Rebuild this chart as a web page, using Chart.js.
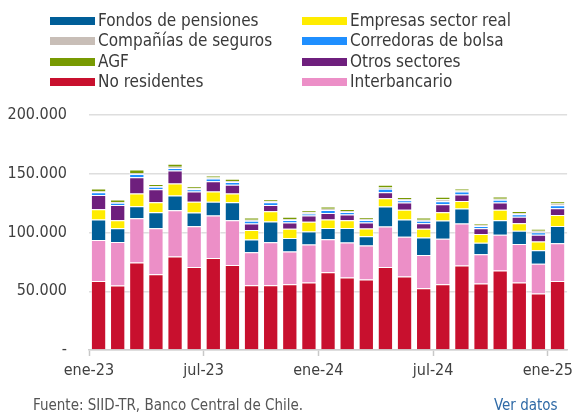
<!DOCTYPE html>
<html>
<head>
<meta charset="utf-8">
<script src="https://cdn.jsdelivr.net/npm/chart.js@4.4.1/dist/chart.umd.min.js"></script>
<style>
  html, body { margin: 0; padding: 0; background: #fff; }
  #wrap { position: relative; width: 588px; height: 415px; overflow: hidden;
          font-family: 'Liberation Sans Narrow', 'DejaVu Sans Condensed', 'Liberation Sans', sans-serif; }
  #c { position: absolute; left: 0; top: 0; }
  .lg { position: absolute; height: 20px; line-height: 20px; font-size: 17px; color: #3a3a3a; white-space: nowrap; }
  .lg .box { position: absolute; top: 7px; width: 45px; height: 8px; }
  .lg .txt { position: absolute; }
  #src { position: absolute; left: 33px; top: 395px; font-size: 15px; color: #555; white-space: nowrap; line-height: 20px; }
  #ver { position: absolute; left: 494px; top: 395px; font-size: 15px; color: #2f6aa6; white-space: nowrap; line-height: 20px; }
</style>
</head>
<body>
<div id="wrap">
  <canvas id="c" width="588" height="415"></canvas>
  <div id="legend"></div>
  <div id="src">Fuente: SIID-TR, Banco Central de Chile.</div>
  <div id="ver">Ver datos</div>
</div>
<script>
const months = ['ene-23','feb-23','mar-23','abr-23','may-23','jun-23','jul-23','ago-23','sep-23','oct-23','nov-23','dic-23',
                'ene-24','feb-24','mar-24','abr-24','may-24','jun-24','jul-24','ago-24','sep-24','oct-24','nov-24','dic-24','ene-25'];

const noResidentes  = [58800,54800,74400,64500,79500,70700,78400,72400,55100,55100,55900,57400,66200,61600,59900,70700,62500,52500,55900,71900,56500,67600,57400,48000,58800];
const interbancario = [34900,37200,37800,39200,39500,34700,36100,38100,28100,36600,27900,32300,28100,29800,29000,34400,33800,28400,38700,35700,25000,30400,32900,25300,32100];
const fondosPensiones = [17300,11700,10200,13600,12500,11600,11600,15300,10800,17600,11600,11100,9600,12500,7900,17000,14700,14800,15600,12800,9700,12500,11100,11600,14700];
const empresasSectorReal = [8800,6800,10800,8500,10200,9100,8800,7400,8200,8800,7700,8300,7100,6600,6600,7100,8300,7400,7100,6500,7600,8800,6500,7400,9400];
const otrosSectores = [12200,13000,13900,11100,11100,8800,8800,7400,5400,5400,5400,5400,5700,4800,5100,5100,6200,4800,6800,5400,4900,6200,5400,5700,5700];
const corredorasBolsa = [2300,1800,2600,2000,2200,2000,2200,2300,2300,2200,2200,1700,2500,2200,2100,3000,2000,2200,2500,2500,1800,2300,2200,2300,2500];
const companiasSeguros = [600,700,900,700,1000,800,900,1000,900,900,800,1200,1000,900,800,1000,1000,800,1600,900,1000,1000,1200,1100,1500];
const agf = [2600,2000,3000,1500,2500,1700,1700,1800,1900,1800,1800,1300,1900,1700,1600,2300,1600,1800,2200,1800,1400,1800,1700,1700,2000];

const yTicks = [0, 50000, 100000, 150000, 200000];
const xTickLabels = ['ene-23','jul-23','ene-24','jul-24','ene-25'];

// stacking order: bottom to top
const series = [
  { label: 'No residentes',        data: noResidentes,       color: '#c8102e' },
  { label: 'Interbancario',        data: interbancario,      color: '#ec8fc7' },
  { label: 'Fondos de pensiones',  data: fondosPensiones,    color: '#005e98' },
  { label: 'Empresas sector real', data: empresasSectorReal, color: '#ffec00' },
  { label: 'Otros sectores',       data: otrosSectores,      color: '#6e1f7d' },
  { label: 'Corredoras de bolsa',  data: corredorasBolsa,    color: '#1f8fff' },
  { label: 'Compañías de seguros', data: companiasSeguros,   color: '#c8beb7' },
  { label: 'AGF',                  data: agf,                color: '#789a02' }
];
// legend layout: left column then right column
const legendLeft  = ['Fondos de pensiones','Compañías de seguros','AGF','No residentes'];
const legendRight = ['Empresas sector real','Corredoras de bolsa','Otros sectores','Interbancario'];

function fmt(v) {
  if (v === 0) return '-';
  return String(v).replace(/\B(?=(\d{3})+(?!\d))/g, '.');
}

const FONT = "'Liberation Sans Narrow', 'DejaVu Sans Condensed', 'Liberation Sans', sans-serif";

const chart = new Chart(document.getElementById('c'), {
  type: 'bar',
  data: {
    labels: months,
    datasets: series.map(s => ({
      label: s.label,
      data: s.data,
      backgroundColor: s.color,
      borderColor: 'rgba(255,255,255,0.45)',
      borderWidth: 1,
      barPercentage: 0.8,
      categoryPercentage: 1.0,
      stack: 'a'
    }))
  },
  options: {
    responsive: false,
    animation: false,
    devicePixelRatio: 1,
    layout: { padding: { top: 115, right: 14, left: 0, bottom: 0 } },
    plugins: { legend: { display: false }, tooltip: { enabled: false } },
    scales: {
      x: {
        stacked: true,
        offset: true,
        grid: {
          offset: true,
          drawOnChartArea: false,
          drawTicks: true,
          tickLength: 6,
          tickColor: ctx => (ctx.index !== undefined && ctx.index % 6 === 0 && ctx.index < months.length) ? '#c8c8c8' : 'rgba(0,0,0,0)',
          tickWidth: 1.5
        },
        border: { display: true, color: '#cfcfcf', width: 1.5 },
        ticks: {
          autoSkip: false,
          maxRotation: 0,
          minRotation: 0,
          padding: 5,
          labelOffset: -9.7,
          color: '#404040',
          font: { family: FONT, size: 16 },
          callback: function(v, i) { const l = months[i]; return xTickLabels.includes(l) ? l : ''; }
        },
        afterFit: s => { s.height = 65; }
      },
      y: {
        stacked: true,
        min: 0,
        max: 200000,
        afterBuildTicks: s => { s.ticks = yTicks.map(v => ({ value: v })); },
        grid: { color: '#dedede', lineWidth: 1.5, drawTicks: false },
        border: { display: false },
        ticks: {
          padding: 22,
          color: '#404040',
          font: { family: FONT, size: 16 },
          callback: v => fmt(v)
        },
        afterFit: s => { s.width = 89; }
      }
    }
  }
});

// HTML legend built from the datasets
const legendEl = document.getElementById('legend');
function addLegend(name, row, col) {
  const s = series.find(d => d.label === name);
  const item = document.createElement('div');
  item.className = 'lg';
  item.style.left = (col === 0 ? 50 : 302) + 'px';
  item.style.top = (10 + row * 20.3) + 'px';
  const box = document.createElement('div');
  box.className = 'box';
  box.style.left = '0px';
  box.style.background = s.color;
  const txt = document.createElement('div');
  txt.className = 'txt';
  txt.style.left = '48px';
  txt.textContent = s.label;
  item.appendChild(box);
  item.appendChild(txt);
  legendEl.appendChild(item);
}
legendLeft.forEach((n, i) => addLegend(n, i, 0));
legendRight.forEach((n, i) => addLegend(n, i, 1));
</script>
</body>
</html>
